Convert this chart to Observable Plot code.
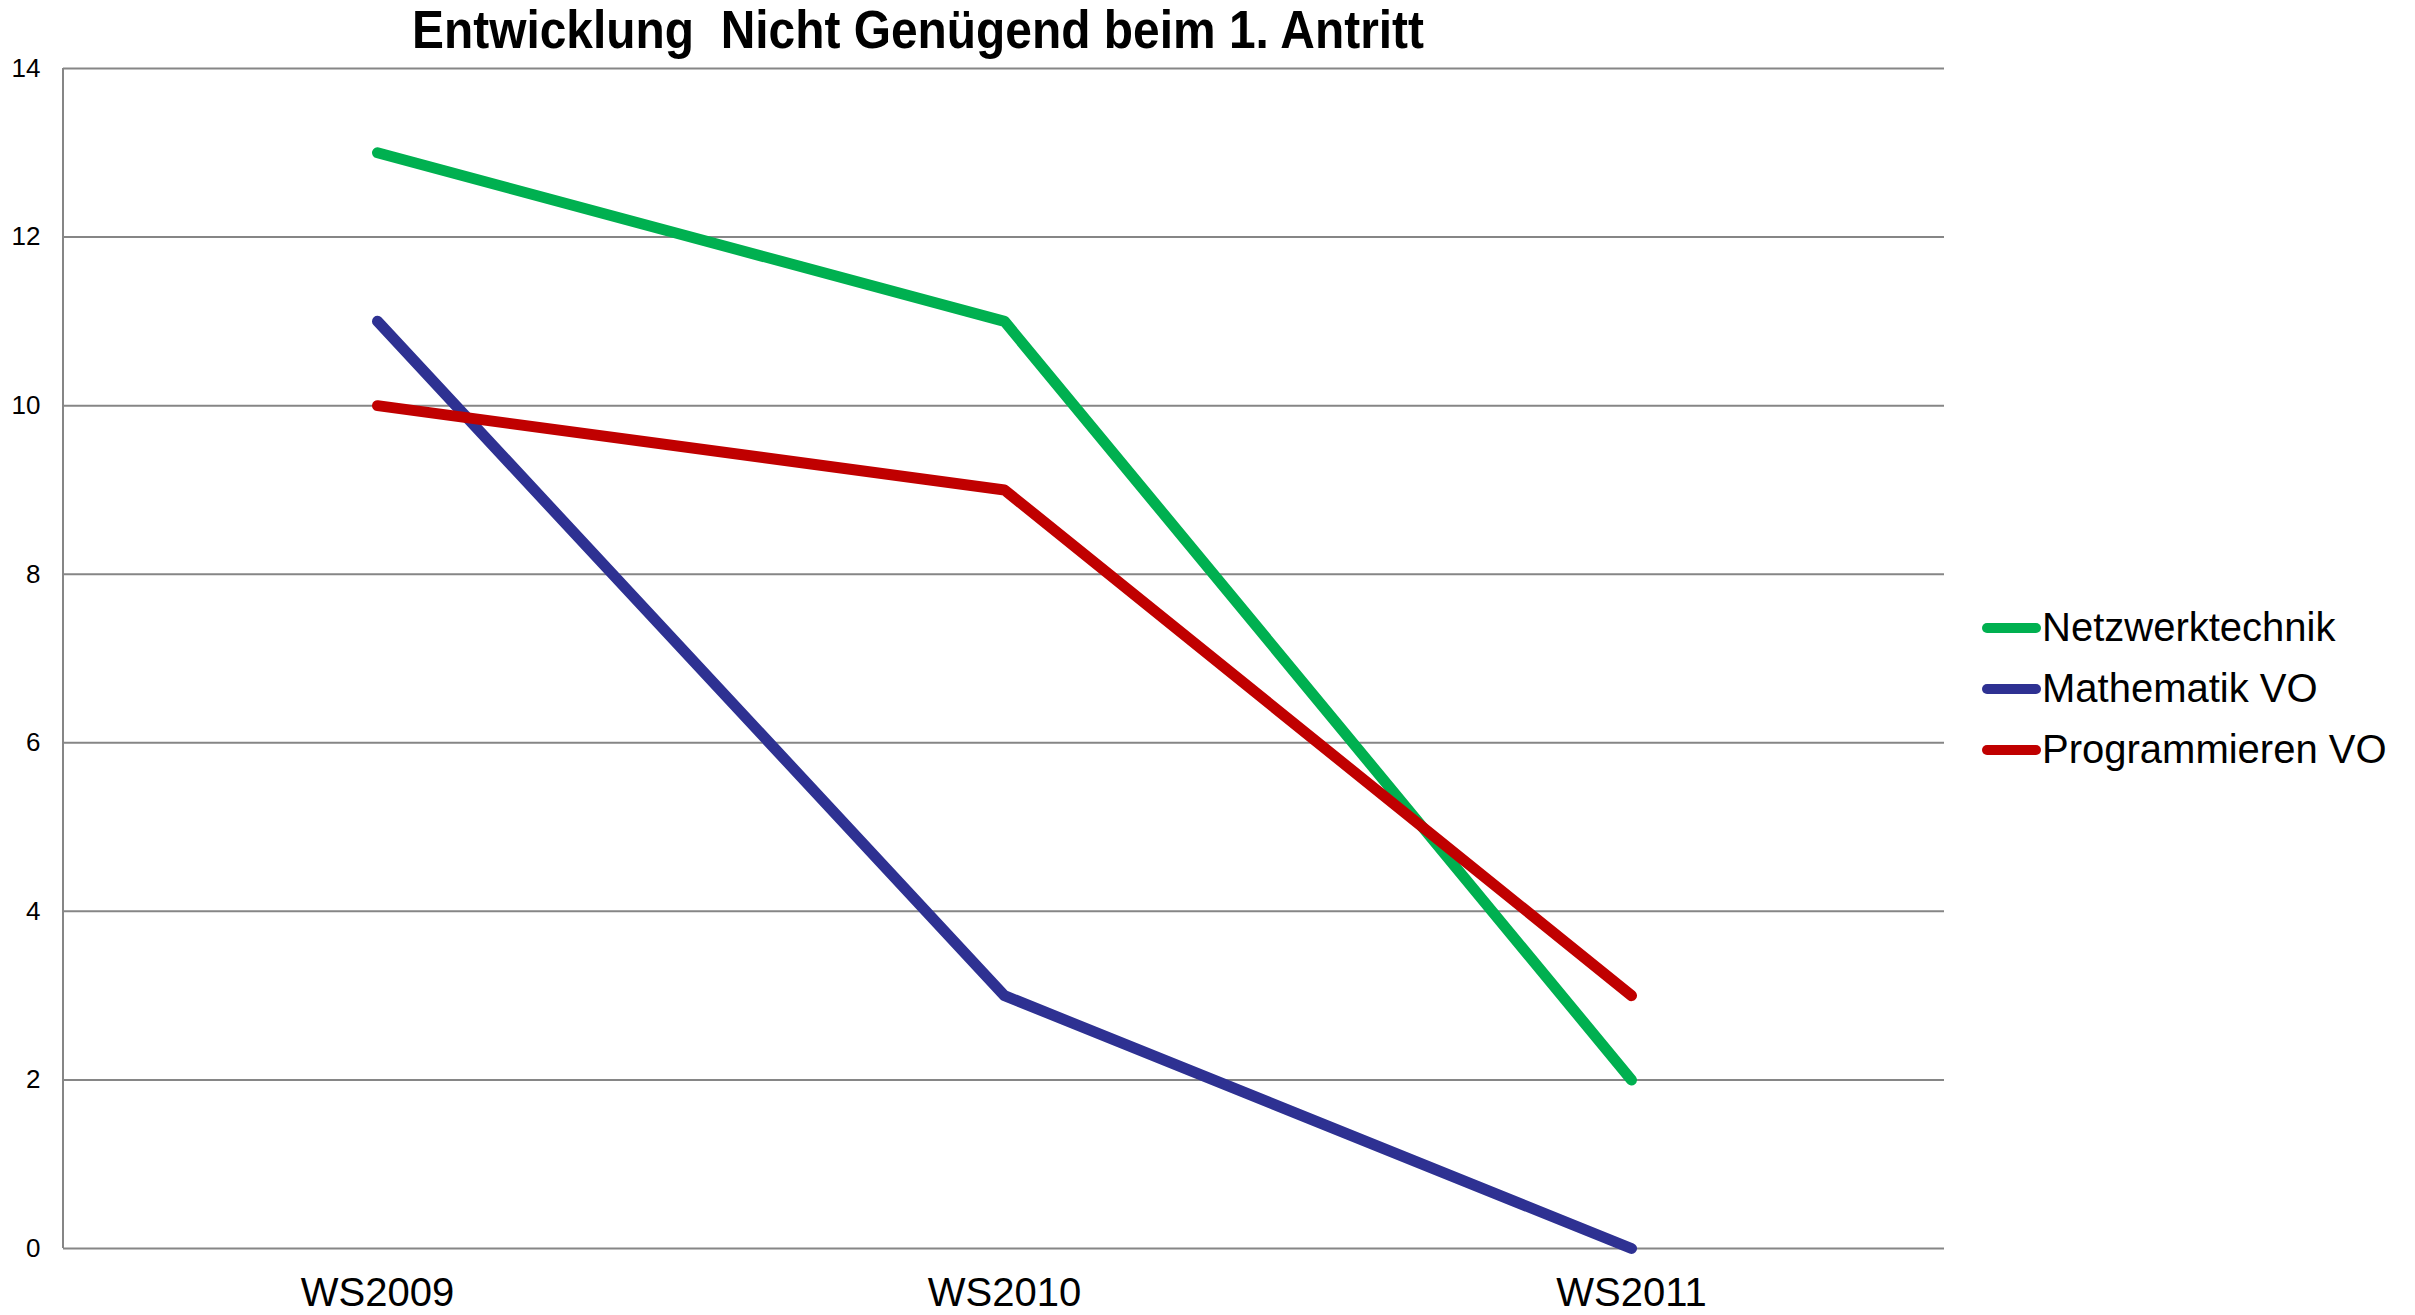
<!DOCTYPE html>
<html>
<head>
<meta charset="utf-8">
<script src="https://cdn.jsdelivr.net/npm/d3@7"></script>
<script src="https://cdn.jsdelivr.net/npm/@observablehq/plot@0.6"></script>
<style>
  html, body { margin: 0; padding: 0; background: #fff; }
  #wrap { position: relative; width: 2415px; height: 1315px; overflow: hidden; font-family: "Liberation Sans", Arial, sans-serif; }
  #title { position: absolute; left: 918px; top: 0px; white-space: pre; font-weight: bold; font-size: 53px; line-height: 1.15; color: #000; transform-origin: center top; }
  #legend { position: absolute; left: 1982px; top: 597px; }
  .row { display: flex; align-items: center; height: 61px; font-size: 40px; color: #000; }
  .sw { width: 59px; height: 10px; border-radius: 5px; margin-right: 1px; }
</style>
</head>
<body>
<div id="wrap">
  <div id="chart"></div>
  <div id="title"></div>
  <div id="legend"></div>
</div>
<script>
const title = "Entwicklung  Nicht Genügend beim 1. Antritt";
const categories = ["WS2009", "WS2010", "WS2011"];
const seriesNames = ["Netzwerktechnik", "Mathematik VO", "Programmieren VO"];
const seriesColors = ["#00B050", "#2E3192", "#C00000"];
const netzwerktechnik = [13, 11, 2];
const mathematik = [11, 3, 0];
const programmieren = [10, 9, 3];
const yTicks = [0, 2, 4, 6, 8, 10, 12, 14];

const seriesValues = [netzwerktechnik, mathematik, programmieren];
const data = seriesNames.flatMap((s, i) => categories.map((c, j) => ({series: s, cat: c, value: seriesValues[i][j]})));

const axisLine = (index, scales, values, dimensions) => {
  const g = d3.create("svg:line")
    .attr("x1", dimensions.marginLeft).attr("x2", dimensions.marginLeft)
    .attr("y1", scales.y(14)).attr("y2", scales.y(0))
    .attr("stroke", "#868686").attr("stroke-width", 2);
  return g.node();
};

const plot = Plot.plot({
  width: 2415,
  height: 1315,
  marginLeft: 63,
  marginRight: 471,
  marginTop: 68,
  marginBottom: 67,
  style: {fontFamily: "'Liberation Sans', Arial, sans-serif", background: "#fff"},
  x: {type: "point", domain: categories, padding: 0.5},
  y: {domain: [0, 14]},
  color: {domain: seriesNames, range: seriesColors},
  marks: [
    Plot.ruleY(yTicks, {stroke: "#868686", strokeWidth: 2}),
    axisLine,
    Plot.axisY(yTicks, {tickSize: 0, tickPadding: 23, fontSize: 26, label: null, fill: "#000", tickFormat: d => String(d)}),
    Plot.axisX({tickSize: 0, tickPadding: 29, fontSize: 40, label: null, fill: "#000"}),
    Plot.line(data, {x: "cat", y: "value", z: "series", stroke: "series", strokeWidth: 11, strokeLinecap: "round", strokeLinejoin: "round"})
  ]
});
document.getElementById("chart").appendChild(plot);

const t = document.getElementById("title");
t.textContent = title;
const w = t.getBoundingClientRect().width;
const s = 1012 / w;
t.style.transform = `translateX(-50%) scaleX(${s})`;

const legend = document.getElementById("legend");
seriesNames.forEach((n, i) => {
  const row = document.createElement("div");
  row.className = "row";
  const sw = document.createElement("div");
  sw.className = "sw";
  sw.style.background = seriesColors[i];
  const lab = document.createElement("span");
  lab.textContent = n;
  row.appendChild(sw);
  row.appendChild(lab);
  legend.appendChild(row);
});
</script>
</body>
</html>
